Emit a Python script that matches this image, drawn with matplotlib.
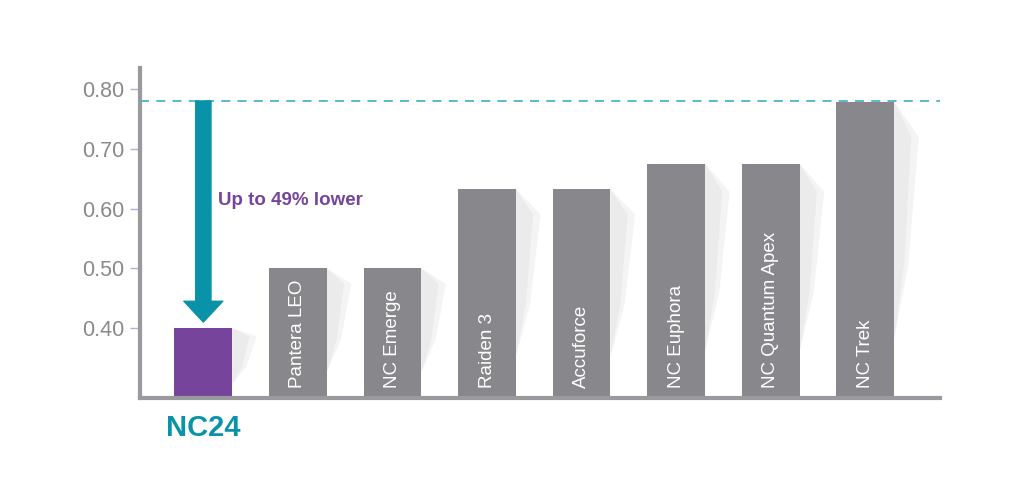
import matplotlib
matplotlib.use("Agg")
import matplotlib.pyplot as plt
from matplotlib.patches import Polygon

plt.rcParams['font.family'] = ['Liberation Sans', 'DejaVu Sans']

# data
products = ["NC24", "Pantera LEO", "NC Emerge", "Raiden 3", "Accuforce",
            "NC Euphora", "NC Quantum Apex", "NC Trek"]
values = [0.40, 0.50, 0.50, 0.632, 0.632, 0.675, 0.675, 0.779]
yticks = [0.40, 0.50, 0.60, 0.70, 0.80]
ref_line = 0.78
note = "Up to 49% lower"

gray = "#88888c"
purple = "#76449a"
teal = "#0a93a8"
axis_gray = "#9a9a9e"

fig = plt.figure(figsize=(10.24, 4.94), dpi=100)
ax = fig.add_axes([0.1367, 0.1943, 0.7813, 0.668])

ymin, ymax = 0.283, 0.835
width = 0.61
xs = list(range(len(products)))
colors = [purple] + [gray] * (len(products) - 1)

# soft shadow on the right of each bar
for x, v in zip(xs, values):
    r = x + width / 2
    h = v - ymin
    for k, c in enumerate(["#f4f4f4", "#ebebeb"]):
        shrink = 1 - 0.3 * k
        pts = [(r, v), (r + 0.26 * shrink, v - 0.12 * h),
               (r + 0.15 * shrink, v - 0.55 * h), (r, v - 0.8 * h)]
        ax.add_patch(Polygon(pts, closed=True, facecolor=c, edgecolor="none", zorder=1))

ax.bar(xs, [v - ymin for v in values], bottom=ymin, width=width, color=colors, zorder=2)

for x, name in zip(xs[1:], products[1:]):
    ax.text(x, ymin + 0.016, name, rotation=90, ha="center", va="bottom",
            color="white", fontsize=13.5, zorder=3)

ax.axhline(ref_line, color="#4fb3c4", lw=1.3, ls=(0, (5, 4)), zorder=3, clip_on=False)

ax.annotate("", xy=(0, 0.41), xytext=(0, ref_line),
            arrowprops=dict(arrowstyle="simple,head_width=28,head_length=15,tail_width=11",
                            mutation_scale=1, color=teal, shrinkA=0, shrinkB=0), zorder=4)
ax.text(0.15, 0.614, note, color=purple, fontsize=13.5, fontweight="bold",
        ha="left", va="center")
ax.text(0, 0.233, products[0], color=teal, fontsize=21, fontweight="bold",
        ha="center", va="center", clip_on=False)

ax.set_xlim(-0.67, 7.79)
ax.set_ylim(ymin, ymax)
ax.set_xticks([])
ax.set_yticks(yticks)
ax.set_yticklabels([f"{t:.2f}" for t in yticks], color="#8a8a8e", fontsize=15.5)
ax.tick_params(axis="y", length=7, width=1, color="#c0a9db", pad=4)

for s in ["top", "right"]:
    ax.spines[s].set_visible(False)
for s in ["left", "bottom"]:
    ax.spines[s].set_color(axis_gray)
    ax.spines[s].set_linewidth(3)

fig.savefig("out.png", dpi=100)
